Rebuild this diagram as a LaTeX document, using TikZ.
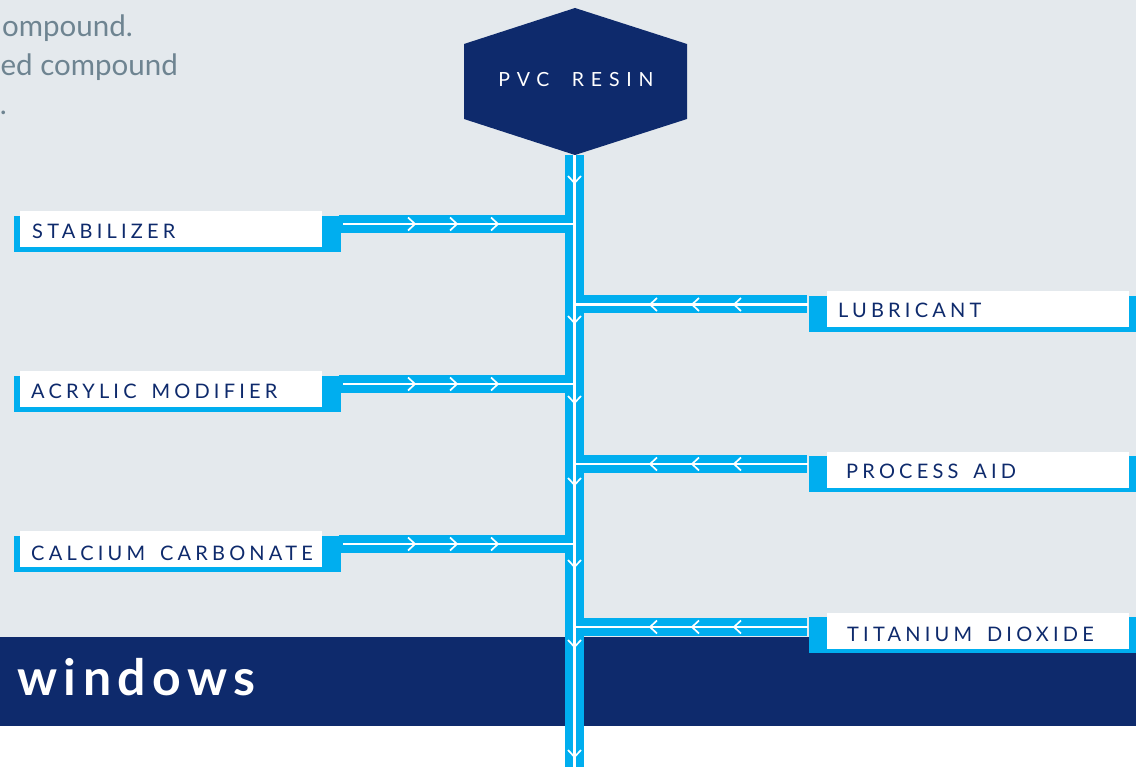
\documentclass[tikz,border=0pt]{standalone}
\usepackage{fontspec}
\setmainfont{Lato}
\newfontfamily\labelfont[LetterSpace=21,WordSpace=1.6]{Lato}
\newfontfamily\resinfont[LetterSpace=35,WordSpace=1.9]{Lato}
\newfontfamily\bandfont[LetterSpace=13]{Lato Bold}
\definecolor{bgc}{HTML}{E4E9ED}
\definecolor{navy}{HTML}{0E2A6C}
\definecolor{pipec}{HTML}{00AEEF}
\definecolor{greyt}{HTML}{6E8491}
\tikzset{
  cbox/.style={fill=pipec, draw=none, minimum width=327pt, minimum height=36pt, inner sep=0pt, outer sep=0pt},
  wbox/.style={fill=white, draw=none, minimum width=302pt, minimum height=36pt, inner sep=0pt, outer sep=0pt},
  lbl/.style={anchor=base west, text=navy, inner sep=0pt, font=\labelfont\fontsize{20}{21}\selectfont},
  pipe/.style={draw=pipec, line width=18pt, line cap=butt},
  trunkpipe/.style={draw=pipec, line width=19pt, line cap=butt},
  flow/.style={draw=white, line width=2.6pt, line cap=butt},
  chev/.pic={\draw[white, line width=1.7pt, line cap=butt, line join=miter] (-7,-6.5) -- (0,0) -- (-7,6.5);},
  greytext/.style={anchor=base east, text=greyt, inner sep=0pt, font=\fontsize{29.5}{32}\selectfont}
}
\begin{document}
\begin{tikzpicture}[x=1pt,y=-1pt]
\useasboundingbox (0,0) rectangle (1136,767);
% background bands
\fill[bgc] (0,0) rectangle (1136,637);
\fill[navy] (0,637) rectangle (1136,726);
\fill[white] (0,726) rectangle (1136,767);
% partial paragraph top-left
\node[greytext] (g1) at (133,37) {ompound.};
\node[greytext] (g2) at (178,76) {ed compound};
\node[greytext] (g3) at (7,115) {.};
% band title
\node[anchor=base west, text=white, inner sep=0pt, font=\bandfont\fontsize{50}{52}\selectfont] (win) at (17,695) {windows};
% hexagon
\fill[navy] (575,8) -- (687,44) -- (687,119) -- (575,155) -- (464,119) -- (464,44) -- cycle;
\node[anchor=base, text=white, inner sep=0pt, font=\resinfont\fontsize{19.5}{20}\selectfont] (resin) at (576,87) {PVC RESIN};
\coordinate (trunktop) at (574.5,155);
\coordinate (trunkbot) at (574.5,767);
% trunk
\draw[trunkpipe] (trunktop) -- (trunkbot);
% left boxes
\node[cbox] (stabC) at (177.5,234) {};
\node[cbox] (acryC) at (177.5,394) {};
\node[cbox] (calcC) at (177.5,554) {};
% right boxes
\node[cbox] (lubrC) at (972,314) {};
\node[cbox] (procC) at (972,474) {};
\node[cbox] (titaC) at (972,635) {};
% pipe ends
\coordinate (ps) at ([yshift=10pt]stabC.east);
\coordinate (pa) at ([yshift=10pt]acryC.east);
\coordinate (pc) at ([yshift=10pt]calcC.east);
\coordinate (pl) at ([yshift=9.5pt]lubrC.west);
\coordinate (pp) at ([yshift=10pt]procC.west);
\coordinate (pt) at ([yshift=8pt]titaC.west);
% cyan pipes
\foreach \p in {ps,pa,pc,pl,pp,pt}{
  \draw[pipe] ([xshift=-2pt]\p) -- (\p -| trunktop);
}
% white boxes and labels
\node[wbox] (stabW) at (171,229) {};
\node[wbox] (acryW) at (171,389) {};
\node[wbox] (calcW) at (171,549) {};
\node[wbox] (lubrW) at (978,309.5) {};
\node[wbox] (procW) at (978,469.5) {};
\node[wbox] (titaW) at (978,631) {};
\node[lbl] (stabT) at (32,239) {STABILIZER};
\node[lbl] (acryT) at (31,399) {ACRYLIC MODIFIER};
\node[lbl] (calcT) at (31,560) {CALCIUM CARBONATE};
\node[lbl] (lubrT) at (838,318) {LUBRICANT};
\node[lbl] (procT) at (846,478) {PROCESS AID};
\node[lbl] (titaT) at (847,641) {TITANIUM DIOXIDE};
% white flow lines
\draw[flow] (trunktop) -- (trunkbot);
\foreach \p in {ps,pa,pc}{
  \draw[flow] ([xshift=2pt]\p) -- ([xshift=1.3pt]\p -| trunktop);
}
\foreach \p in {pl,pp,pt}{
  \draw[flow] ([xshift=-1pt]\p) -- ([xshift=-1.3pt]\p -| trunktop);
}
% chevrons on left pipes (pointing right)
\foreach \p in {ps,pa,pc}{
  \foreach \x in {415,457,498}{
    \pic at (\x,0 |- \p) {chev};
  }
}
% chevrons on right pipes (pointing left)
\foreach \p in {pl,pp,pt}{
  \foreach \x in {650,692,734}{
    \pic[rotate=180] at (\x,0 |- \p) {chev};
  }
}
% chevrons on trunk (pointing down)
\foreach \y in {183,323,403,485,567,647,757}{
  \pic[rotate=-90] at (574.5,\y) {chev};
}
\end{tikzpicture}
\end{document}
